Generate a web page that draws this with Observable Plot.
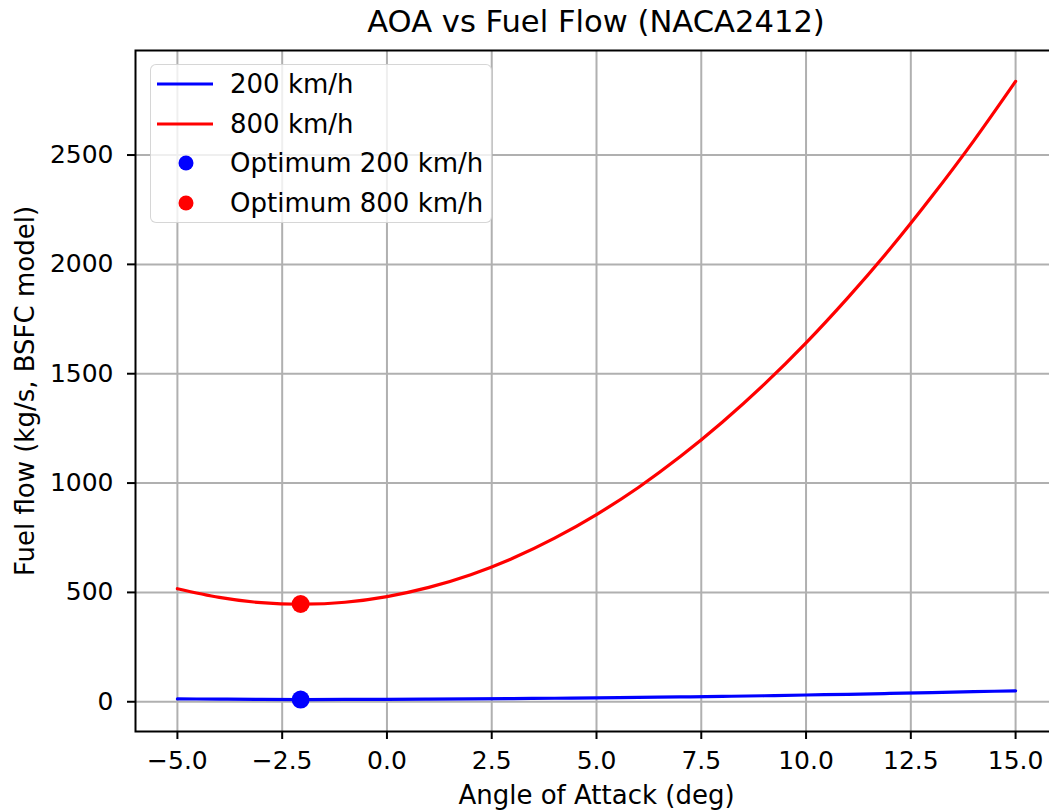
<!DOCTYPE html>
<html>
<head>
<meta charset="utf-8">
<script src="https://cdn.jsdelivr.net/npm/d3@7"></script>
<script src="https://cdn.jsdelivr.net/npm/@observablehq/plot@0.6"></script>
<style>
  html, body { margin: 0; padding: 0; background: #fff; overflow: hidden; }
  #wrap { position: relative; width: 1049px; height: 810px; overflow: hidden; font-family: "DejaVu Sans", sans-serif; }
  #chart { position: absolute; left: 0; top: 0; width: 1057px; }
  #title { position: absolute; left: 135px; width: 922px; top: 3px; text-align: center; font-size: 30.6px; color: #000; line-height: 38px; white-space: nowrap; }
  #legend { position: absolute; left: 150px; top: 64px; width: 340px; height: 157px; border: 1.5px solid rgba(204,204,204,0.8); border-radius: 6px; background: rgba(255,255,255,0.8); }
  .lg { position: absolute; left: 79px; font-size: 26px; line-height: 30px; color: #000; white-space: nowrap; }
  .sw { position: absolute; }
</style>
</head>
<body>
<div id="wrap">
  <div id="chart"></div>
  <div id="title"></div>
  <div id="legend"></div>
</div>
<script>
// ---- data ----
const aoa = [-5, -4, -3, -2, -1, 0, 1, 2, 3, 4, 5, 6, 7, 8, 9, 10, 11, 12, 13, 14, 15];
const fuel200 = [13, 12, 10.5, 10, 10.5, 11, 12, 13, 14.5, 16, 18, 20, 22, 24.5, 27.5, 31, 34, 38, 42, 46, 50];
const fuel800 = [517, 477, 453, 446, 455, 481, 523, 581, 656, 748, 856, 980, 1121, 1278, 1451, 1641, 1848, 2070, 2310, 2565, 2837];
const optAoa = [-2.06, -2.06];
const optFuel = [10, 447];
const optSeries = ["Optimum 200 km/h", "Optimum 800 km/h"];
const seriesNames = ["200 km/h", "800 km/h"];
const seriesColors = ["#0000ff", "#ff0000"];
const xTicks = [-5, -2.5, 0, 2.5, 5, 7.5, 10, 12.5, 15];
const yTicks = [0, 500, 1000, 1500, 2000, 2500];
const titleText = "AOA vs Fuel Flow (NACA2412)";
const xLabel = "Angle of Attack (deg)";
const yLabel = "Fuel flow (kg/s, BSFC model)";

// ---- build ----
const lineData = [];
aoa.forEach((a, i) => {
  lineData.push({aoa: a, fuel: fuel200[i], s: seriesNames[0]});
  lineData.push({aoa: a, fuel: fuel800[i], s: seriesNames[1]});
});
const optData = optAoa.map((a, i) => ({aoa: a, fuel: optFuel[i], s: optSeries[i], c: seriesColors[i]}));
const fmt = d => (d < 0 ? "\u2212" : "") + Math.abs(d).toFixed(1);

const chart = Plot.plot({
  width: 1057,
  height: 810,
  marginLeft: 135,
  marginRight: 0,
  marginTop: 50,
  marginBottom: 79,
  style: {fontFamily: "DejaVu Sans, sans-serif", fontSize: "25px", color: "#000", background: "transparent", overflow: "visible", maxWidth: "none"},
  x: {domain: [-6, 16]},
  y: {domain: [-136, 2978]},
  color: {domain: seriesNames, range: seriesColors},
  marks: [
    Plot.gridX(xTicks, {stroke: "#b0b0b0", strokeOpacity: 1, strokeWidth: 2}),
    Plot.gridY(yTicks, {stroke: "#b0b0b0", strokeOpacity: 1, strokeWidth: 2}),
    Plot.line(lineData, {x: "aoa", y: "fuel", z: "s", stroke: "s", strokeWidth: 3.2, curve: "natural"}),
    Plot.dot(optData, {x: "aoa", y: "fuel", r: 9, fill: "c", stroke: null}),
    Plot.frame({stroke: "#000", strokeWidth: 2}),
    Plot.axisX(xTicks, {tickSize: 8, tickPadding: 12, tickFormat: fmt, strokeWidth: 2, label: null, fontSize: 25}),
    Plot.axisY(yTicks, {tickSize: 8, tickPadding: 14, tickFormat: d => String(d), strokeWidth: 2, label: null, fontSize: 25}),
    Plot.text([xLabel], {frameAnchor: "bottom", dy: 64, fontSize: 26, fill: "#000", textAnchor: "middle", lineAnchor: "middle"}),
    Plot.text([yLabel], {frameAnchor: "left", dx: -110, rotate: -90, fontSize: 26, fill: "#000", textAnchor: "middle", lineAnchor: "middle"})
  ]
});
document.getElementById("chart").appendChild(chart);
document.getElementById("title").textContent = titleText;

// legend
const lg = document.getElementById("legend");
const rows = [
  {label: seriesNames[0], color: seriesColors[0], kind: "line"},
  {label: seriesNames[1], color: seriesColors[1], kind: "line"},
  {label: optSeries[0], color: seriesColors[0], kind: "dot"},
  {label: optSeries[1], color: seriesColors[1], kind: "dot"}
];
rows.forEach((r, i) => {
  const cy = 19 + i * 39.7;
  const sw = document.createElementNS("http://www.w3.org/2000/svg", "svg");
  sw.setAttribute("class", "sw");
  sw.setAttribute("width", 60);
  sw.setAttribute("height", 20);
  sw.style.left = "4px";
  sw.style.top = (cy - 10) + "px";
  if (r.kind === "line") {
    const l = document.createElementNS("http://www.w3.org/2000/svg", "line");
    l.setAttribute("x1", 2); l.setAttribute("x2", 58); l.setAttribute("y1", 10); l.setAttribute("y2", 10);
    l.setAttribute("stroke", r.color); l.setAttribute("stroke-width", 3.2);
    sw.appendChild(l);
  } else {
    const c = document.createElementNS("http://www.w3.org/2000/svg", "circle");
    c.setAttribute("cx", 31); c.setAttribute("cy", 10); c.setAttribute("r", 7.5);
    c.setAttribute("fill", r.color);
    sw.appendChild(c);
  }
  lg.appendChild(sw);
  const t = document.createElement("div");
  t.className = "lg";
  t.style.top = (cy - 15) + "px";
  t.textContent = r.label;
  lg.appendChild(t);
});
</script>
</body>
</html>
